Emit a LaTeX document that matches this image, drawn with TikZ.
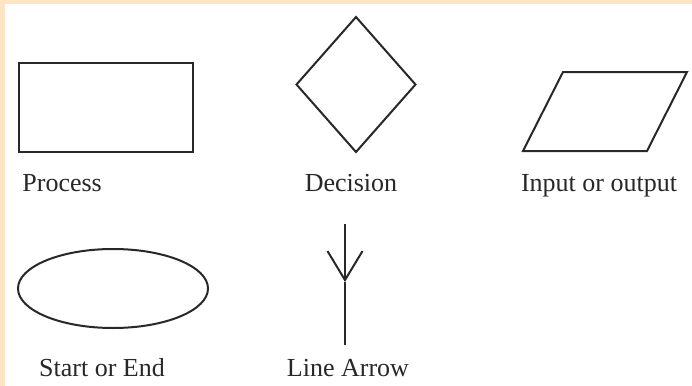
\documentclass[tikz,border=0pt]{standalone}
\usepackage{fontspec}
\setmainfont{Liberation Serif}
\usetikzlibrary{shapes.geometric, arrows.meta, positioning}
\definecolor{cFrame}{RGB}{255,229,196}
\definecolor{cLine}{RGB}{40,40,40}
\tikzset{
	shp/.style      ={draw=cLine, line width=1pt, inner sep=0pt, outer sep=0pt},
	procbox/.style  ={shp, rectangle, minimum width=87pt, minimum height=44.5pt},
	decbox/.style   ={shp, diamond, aspect=1, minimum width=59.5pt, minimum height=67.5pt},
	termbox/.style  ={shp, ellipse, minimum width=95pt, minimum height=39.5pt},
	lbl/.style      ={font=\fontsize{13}{15}\selectfont, text=cLine, inner sep=0pt, anchor=base},
	flowline/.style ={draw=cLine, line width=1pt},
	flowarrow/.style={flowline, -{Straight Barb[length=14.5pt, width=17.5pt, line width=1pt]}},
}
\begin{document}
\begin{tikzpicture}[x=0.5pt, y=-0.5pt]
	% frame
	\fill[cFrame] (0,0) rectangle (692,386);
	\fill[white] (5,4) rectangle (692,386);
	\useasboundingbox (0,0) rectangle (692,386);
	% symbols
	\node[procbox] (proc) at (106,107.5) {};
	\node[decbox] (dec) at (356,84.5) {};
	\draw[flowline, line join=miter] (523,151) -- (563,72) -- (687,72) -- (647,151) -- cycle;
	\node[termbox] (term) at (113,288.5) {};
	\coordinate (la top) at (345,224);
	\coordinate (la tip) at (345,282);
	\coordinate (la bot) at (345,345);
	\draw[flowarrow] (la top) -- (la tip);
	\draw[flowline] (la tip) -- (la bot);
	% labels
	\node[lbl, anchor=base west] (proc lbl) at (22,191) {Process};
	\node[lbl] (dec lbl) at (351,191) {Decision};
	\node[lbl] (io lbl) at (599,191) {Input or output};
	\node[lbl] (term lbl) at (102,376) {Start or End};
	\node[lbl] (la lbl) at (348,376) {Line Arrow};
\end{tikzpicture}
\end{document}
